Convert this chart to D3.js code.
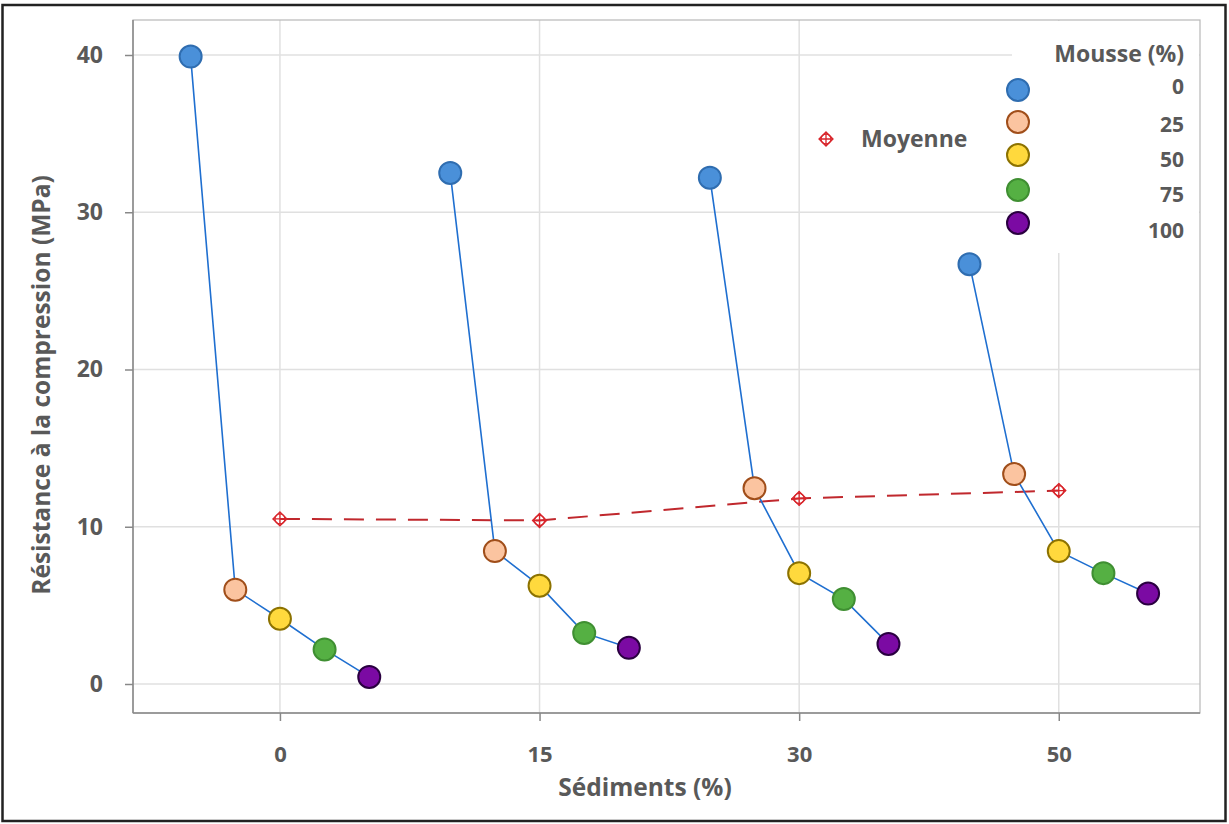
<!DOCTYPE html>
<html><head><meta charset="utf-8">
<script src="https://cdn.jsdelivr.net/npm/d3@7"></script>
<style>
body{margin:0;background:#fff;}
svg text{font-family:"Open Sans",sans-serif;font-weight:700;fill:#595959;}
</style></head>
<body><svg id="c" width="1229" height="824"></svg>
<script>
const sediments = ["0","15","30","50"];
const mousse = ["0","25","50","75","100"];
const seriesValues = {
  "0":   [39.9, 32.5, 32.2, 26.7],
  "25":  [6.0, 8.45, 12.45, 13.35],
  "50":  [4.15, 6.25, 7.05, 8.45],
  "75":  [2.2, 3.25, 5.4, 7.05],
  "100": [0.45, 2.3, 2.55, 5.75]
};
const moyenne = [10.5, 10.4, 11.8, 12.3];
const yTicks = [0, 10, 20, 30, 40];
const fills   = ["#4a90d9", "#fbc4a0", "#ffd93d", "#55b043", "#7b0aa3"];
const strokes = ["#2f6db0", "#a04e1a", "#8c7200", "#3f8f32", "#2a0040"];

const svg = d3.select("#c");
svg.append("rect").attr("x",2.5).attr("y",5).attr("width",1223).attr("height",816)
  .attr("fill","#fff").attr("stroke","#222").attr("stroke-width",2.5);

const L=133, R=1200, T=20, B=713;
const x = d3.scaleLinear().domain([-0.566, 3.544]).range([L, R]);
const y = d3.scaleLinear().domain([0, 40]).range([684, 55]);
const offset = k => (k - 2) * 0.172;

// gridlines
const g = svg.append("g");
g.selectAll(".hg").data(yTicks).join("line")
  .attr("x1",L).attr("x2",R).attr("y1",d=>y(d)).attr("y2",d=>y(d))
  .attr("stroke","#e0e0e0").attr("stroke-width",1.5);
g.selectAll(".vg").data(sediments).join("line")
  .attr("x1",(d,i)=>x(i)).attr("x2",(d,i)=>x(i)).attr("y1",T).attr("y2",B)
  .attr("stroke","#e0e0e0").attr("stroke-width",1.5);

// plot frame (top/right light)
svg.append("rect").attr("x",L).attr("y",T).attr("width",R-L).attr("height",B-T)
  .attr("fill","none").attr("stroke","#b8b8b8").attr("stroke-width",1.2);
svg.append("line").attr("x1",L).attr("x2",L).attr("y1",T).attr("y2",B).attr("stroke","#888").attr("stroke-width",1.5);
svg.append("line").attr("x1",L).attr("x2",R).attr("y1",B).attr("y2",B).attr("stroke","#888").attr("stroke-width",1.5);

// axes
const yAxis = d3.axisLeft(y).tickValues(yTicks).tickSize(8).tickSizeOuter(0).tickPadding(22);
const ya = svg.append("g").attr("transform",`translate(${L},0)`).call(yAxis);
ya.select(".domain").remove();
ya.selectAll(".tick line").attr("stroke","#888").attr("stroke-width",1.5);
ya.selectAll(".tick text").attr("font-size",23).attr("fill","#595959").attr("font-family","'Open Sans',sans-serif");

const xAxis = d3.axisBottom(x).tickValues(sediments.map((d,i)=>i)).tickFormat(i=>sediments[i]).tickSize(8).tickSizeOuter(0);
const xa = svg.append("g").attr("transform",`translate(0,${B})`).call(xAxis);
xa.select(".domain").remove();
xa.selectAll(".tick line").attr("stroke","#888").attr("stroke-width",1.5);
xa.selectAll(".tick text").attr("font-size",22).attr("fill","#595959").attr("font-family","'Open Sans',sans-serif")
  .attr("y",49).attr("dy",0);

// axis titles
svg.append("text").attr("x",645).attr("y",796).attr("text-anchor","middle")
  .attr("font-size",24.5).text("Sédiments (%)");
svg.append("text").attr("transform","translate(50,385) rotate(-90)").attr("text-anchor","middle")
  .attr("font-size",24.5).text("Résistance à la compression (MPa)");

// legend background
svg.append("rect").attr("x",1012).attr("y",T+1).attr("width",R-1012-1).attr("height",232).attr("fill","#fff");

// mean dashed line
const line = d3.line().x(d=>x(d[0])).y(d=>y(d[1]));
svg.append("path").datum(moyenne.map((v,i)=>[i,v])).attr("d",line)
  .attr("fill","none").attr("stroke","#c0282d").attr("stroke-width",2).attr("stroke-dasharray","20,12");

// group lines
sediments.forEach((s,i)=>{
  const pts = mousse.map((m,k)=>[i+offset(k), seriesValues[m][i]]);
  svg.append("path").datum(pts).attr("d",line).attr("fill","none")
    .attr("stroke","#1f6fd0").attr("stroke-width",1.6);
});

// mean markers
function meanMarker(sel, cx, cy){
  const gm = sel.append("g").attr("transform",`translate(${cx},${cy})`)
    .attr("stroke","#d8252b").attr("stroke-width",1.3).attr("fill","none");
  gm.append("path").attr("d","M0,-7L7,0L0,7L-7,0Z");
  gm.append("circle").attr("r",5);
  gm.append("path").attr("d","M0,-7V7M-7,0H7");
}
moyenne.forEach((v,i)=>meanMarker(svg, x(i), y(v)));

// points
mousse.forEach((m,k)=>{
  svg.append("g").selectAll("circle").data(seriesValues[m]).join("circle")
    .attr("cx",(d,i)=>x(i+offset(k))).attr("cy",d=>y(d)).attr("r",11)
    .attr("fill",fills[k]).attr("stroke",strokes[k]).attr("stroke-width",2);
});

// legend
svg.append("text").attr("x",1184).attr("y",62).attr("text-anchor","end").attr("font-size",23).text("Mousse (%)");
const ly = [90, 122, 155, 190, 223];
const lty = [94, 132, 167, 202, 238];
mousse.forEach((m,k)=>{
  svg.append("circle").attr("cx",1018).attr("cy",ly[k]).attr("r",11)
    .attr("fill",fills[k]).attr("stroke",strokes[k]).attr("stroke-width",2);
  svg.append("text").attr("x",1184).attr("y",lty[k]).attr("text-anchor","end").attr("font-size",21).text(m);
});
meanMarker(svg, 826, 139);
svg.append("text").attr("x",861).attr("y",147).attr("font-size",23).text("Moyenne");
</script></body></html>
